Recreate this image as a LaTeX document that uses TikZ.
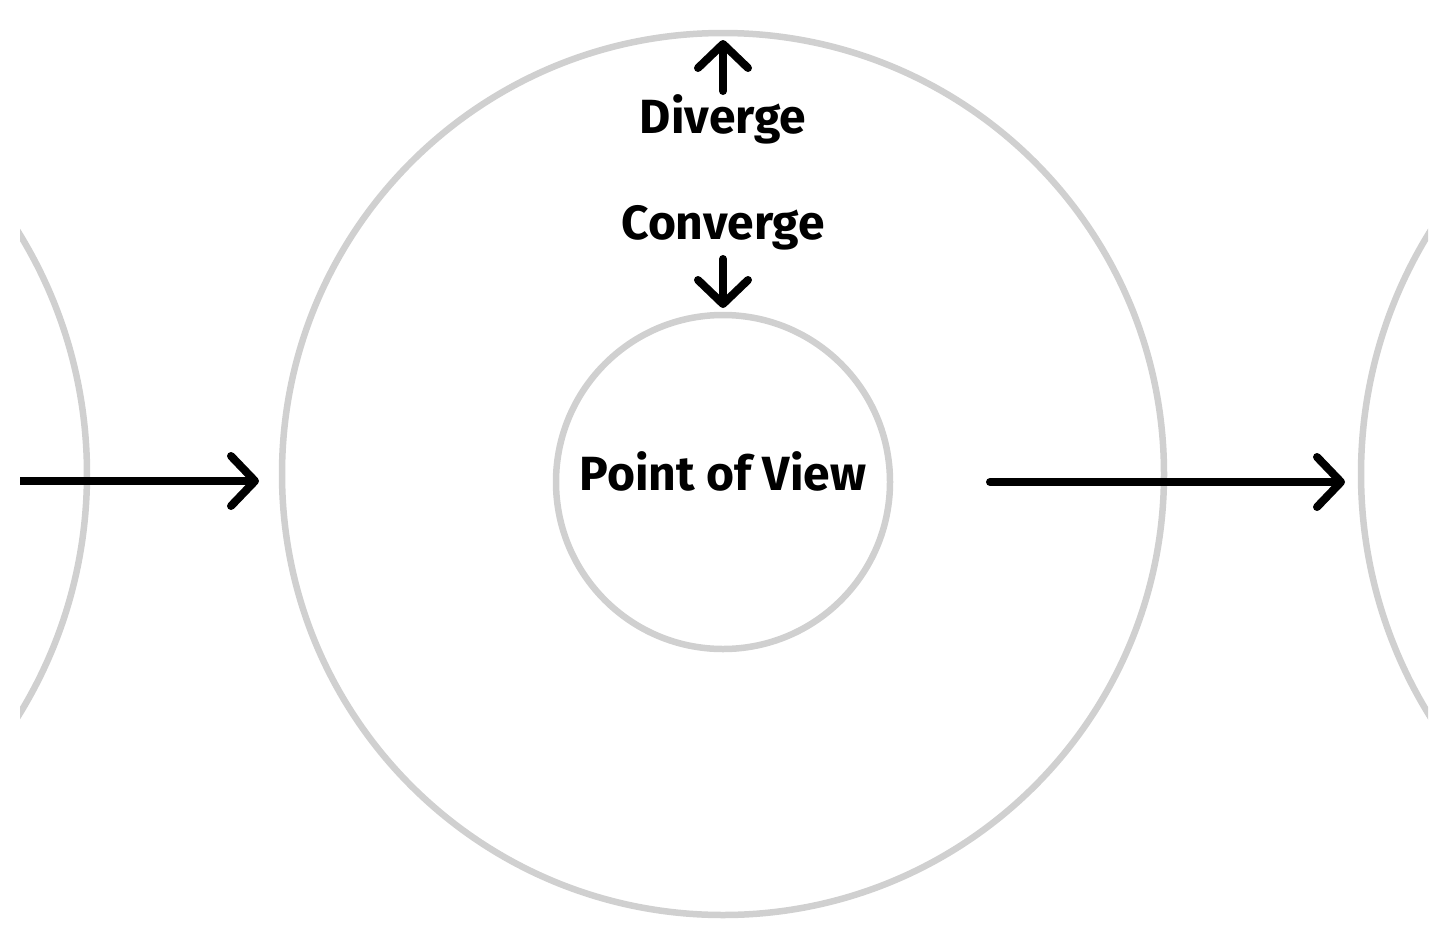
\documentclass[tikz,border=0pt]{standalone}
\usepackage{fontspec}
\setmainfont{Fira Sans}
\usetikzlibrary{arrows.meta}
\definecolor{ringgray}{HTML}{D0D0D0}
\tikzset{
  ring/.style={circle, draw=ringgray, line width=6.5pt, inner sep=0pt, outer sep=0pt},
  flow/.style={line width=8pt, line cap=round, -{Straight Barb[length=24pt, width=50pt, line width=8pt, round]}},
  label/.style={font=\fontsize{48}{50}\selectfont\bfseries, inner sep=0pt, anchor=base}
}
\begin{document}
\begin{tikzpicture}[x=1pt,y=-1pt]
\useasboundingbox (0,0) rectangle (1456,951);
\begin{scope}
  \clip (20,0) rectangle (1428,951);
  \node[ring, minimum size=920pt] (leftring) at (-373,474) {};
  \node[ring, minimum size=920pt] (rightring) at (1821,474) {};
\end{scope}
\node[ring, minimum size=882pt] (outer) at (723,474) {};
\node[ring, minimum size=334pt] (inner) at (723,482) {};
\node[label] (pov) at (723,490) {Point of View};
\node[label] (div) at (723,133) {Diverge};
\node[label] (con) at (723,239) {Converge};
\coordinate (lstart) at (20,481);
\coordinate (lend) at (259,481);
\coordinate (rstart) at (990,482);
\coordinate (rend) at (1345,482);
\coordinate (ustart) at (723,91);
\coordinate (uend) at (723,40);
\coordinate (dstart) at (723,259);
\coordinate (dend) at (723,308);
\draw[flow, line cap=butt] (lstart) -- (lend);
\draw[flow] (rstart) -- (rend);
\draw[flow] (ustart) -- (uend);
\draw[flow] (dstart) -- (dend);
\end{tikzpicture}
\end{document}
